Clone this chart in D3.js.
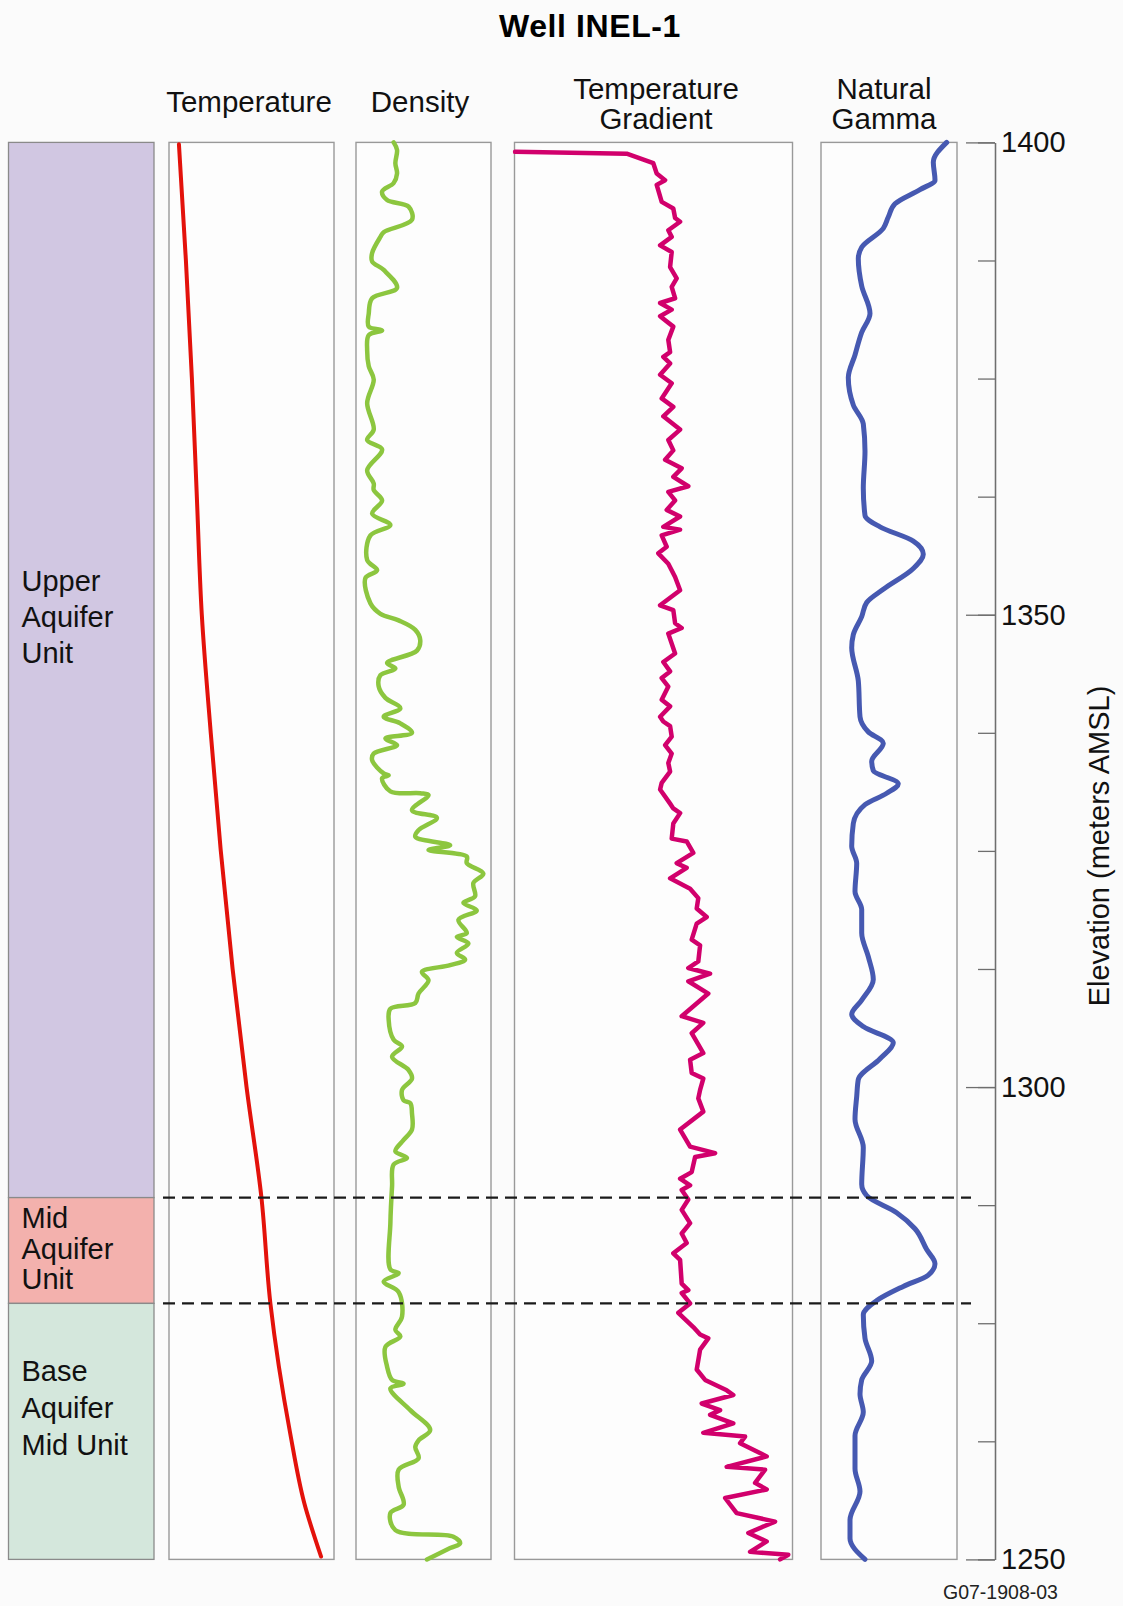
<!DOCTYPE html>
<html>
<head>
<meta charset="utf-8">
<script src="https://cdn.jsdelivr.net/npm/d3@7"></script>
<style>
  body { margin: 0; background: #fbfbfb; }
  svg { display: block; font-family: "Liberation Sans", Arial, Helvetica, sans-serif; }
</style>
</head>
<body>
<svg id="chart"></svg>
<script>
// elevation ticks (m AMSL)
var elevTicks = [1400, 1387.5, 1375, 1362.5, 1350, 1337.5, 1325, 1312.5, 1300, 1287.5, 1275, 1262.5, 1250]
var elevLabels = [1400, 1350, 1300, 1250]

// hydrostratigraphic units: name lines, top / bottom elevation
var unitNames = [["Upper", "Aquifer", "Unit"], ["Mid", "Aquifer", "Unit"], ["Base", "Aquifer", "Mid Unit"]]
var unitTop = [1400, 1288.3, 1277.1]
var unitBottom = [1288.3, 1277.1, 1250]

// temperature, deg C  [elevation, value]
var temperature = [[1399.8, 11.0], [1387.5, 11.7], [1375.1, 12.3], [1362.5, 12.8], [1350, 13.3], [1337.5, 14.2],
  [1325.1, 15.2], [1312.5, 16.4], [1300, 17.8], [1288.3, 19.3], [1277.1, 20.2], [1263.3, 22.2], [1256, 23.6], [1250.3, 25.3]]

// density, g/cc
var density = [[1400, 1.878], [1399.2, 1.912], [1397.8, 1.895], [1396.7, 1.912], [1395.7, 1.878], [1394.8, 1.762],
  [1393.9, 1.812], [1393.2, 2.028], [1391.8, 2.062], [1390.5, 1.778], [1390.0, 1.745], [1388.3, 1.662], [1387.4, 1.662],
  [1386.5, 1.778], [1384.6, 1.912], [1383.5, 1.662], [1381.9, 1.628], [1380.5, 1.628], [1380.1, 1.762], [1379.6, 1.628],
  [1378.0, 1.612], [1376.3, 1.628], [1374.9, 1.678], [1372.4, 1.612], [1369.6, 1.678], [1368.5, 1.612], [1367.5, 1.762],
  [1365.3, 1.612], [1363.9, 1.678], [1363.2, 1.678], [1362.1, 1.762], [1360.7, 1.662], [1359.5, 1.845], [1358.4, 1.645],
  [1355.8, 1.612], [1354.7, 1.712], [1353.9, 1.595], [1351.2, 1.645], [1350.1, 1.745], [1349.4, 1.928], [1348.4, 2.095],
  [1347.3, 2.145], [1346.2, 2.112], [1344.9, 1.812], [1344.3, 1.895], [1343.6, 1.745], [1342.4, 1.728], [1341.2, 1.795],
  [1340.1, 1.945], [1339.2, 1.778], [1338.5, 1.945], [1337.5, 2.062], [1336.9, 1.795], [1336.2, 1.912], [1335.3, 1.678],
  [1334.6, 1.662], [1333.2, 1.778], [1333.0, 1.828], [1332.7, 1.762], [1331.3, 1.845], [1331.1, 2.145], [1330.9, 2.228],
  [1329.3, 2.062], [1328.5, 2.312], [1327.2, 2.128], [1326.5, 2.095], [1325.6, 2.445], [1325.1, 2.228], [1324.4, 2.612],
  [1323.7, 2.612], [1322.6, 2.778], [1321.6, 2.678], [1320.2, 2.695], [1319.5, 2.578], [1318.7, 2.712], [1317.7, 2.528],
  [1316.3, 2.612], [1315.9, 2.512], [1315.2, 2.628], [1314.2, 2.512], [1313.5, 2.595], [1312.9, 2.445], [1312.2, 2.162],
  [1311.3, 2.228], [1309.9, 2.128], [1308.9, 2.095], [1308.3, 1.845], [1307.1, 1.828], [1305.0, 1.878], [1304.3, 1.962],
  [1303.2, 1.862], [1301.8, 2.028], [1300.9, 2.062], [1299.7, 1.962], [1298.6, 1.978], [1298.3, 2.045], [1297.2, 2.062],
  [1295.5, 2.062], [1294.4, 1.978], [1293.2, 1.895], [1292.5, 2.012], [1291.8, 1.878], [1289.5, 1.862], [1285.6, 1.845],
  [1280.7, 1.845], [1280.3, 1.928], [1279.4, 1.778], [1278.3, 1.928], [1275.7, 1.962], [1274.3, 1.895], [1273.6, 1.945],
  [1272.5, 1.795], [1270.4, 1.812], [1269.0, 1.862], [1268.6, 1.978], [1268.1, 1.845], [1265.8, 2.045], [1263.7, 2.245],
  [1262.6, 2.128], [1261.9, 2.095], [1260.7, 2.128], [1259.5, 1.928], [1257.7, 1.928], [1255.8, 1.978], [1254.9, 1.845],
  [1253.1, 1.895], [1252.4, 2.478], [1251.7, 2.545], [1251.2, 2.445], [1250.0, 2.212]]

// temperature gradient, deg C/km
var gradient = [[1399.0, 0.3], [1398.8, 56.1], [1397.8, 69.4], [1396.7, 71.1], [1396.0, 75.3], [1395.5, 71.1],
  [1393.7, 73.6], [1393.0, 79.4], [1392.0, 80.3], [1391.6, 82.8], [1390.7, 76.9], [1390.0, 78.6], [1389.1, 72.8],
  [1388.4, 78.6], [1386.8, 77.8], [1385.6, 81.1], [1384.7, 78.6], [1383.5, 80.3], [1383.0, 72.8], [1382.3, 78.6],
  [1381.6, 72.8], [1380.5, 79.4], [1379.1, 76.9], [1377.8, 77.8], [1377.3, 74.4], [1376.6, 77.8], [1375.4, 72.8],
  [1374.5, 78.6], [1372.9, 73.6], [1372.0, 79.4], [1371.0, 74.4], [1369.6, 82.8], [1368.5, 76.9], [1367.4, 79.4],
  [1366.4, 75.3], [1365.5, 83.6], [1364.6, 79.4], [1363.6, 86.9], [1363.0, 76.9], [1362.1, 80.3], [1361.1, 76.1],
  [1360.4, 82.8], [1359.3, 74.4], [1359.0, 82.8], [1358.4, 73.6], [1357.2, 76.1], [1356.5, 71.9], [1355.4, 76.9],
  [1354.0, 80.3], [1352.6, 82.8], [1351.0, 72.8], [1350.5, 79.4], [1349.1, 80.3], [1348.6, 83.6], [1348.0, 76.9],
  [1345.9, 80.3], [1345.0, 74.4], [1344.0, 77.8], [1343.3, 73.6], [1342.4, 76.9], [1341.0, 73.6], [1340.3, 77.8],
  [1339.2, 72.8], [1338.7, 74.4], [1338.2, 77.8], [1337.1, 78.6], [1336.2, 75.3], [1335.3, 78.6], [1334.3, 76.9],
  [1333.4, 77.8], [1332.2, 73.6], [1331.5, 72.8], [1330.0, 77.8], [1329.5, 79.4], [1329.0, 82.8], [1327.9, 79.4],
  [1326.3, 78.6], [1326.0, 86.1], [1324.8, 89.4], [1323.7, 81.1], [1323.2, 86.1], [1322.1, 77.8], [1321.0, 87.8],
  [1320.0, 91.9], [1318.9, 91.1], [1318.0, 96.1], [1317.3, 91.1], [1315.6, 88.6], [1315.0, 92.8], [1313.3, 91.9],
  [1312.6, 86.9], [1312.0, 97.8], [1311.2, 86.9], [1309.9, 96.9], [1307.5, 83.6], [1306.8, 94.4], [1305.7, 88.6],
  [1303.6, 94.4], [1302.9, 87.8], [1301.5, 88.6], [1300.9, 94.4], [1299.7, 92.8], [1298.8, 91.9], [1297.4, 94.4],
  [1295.5, 82.8], [1293.7, 87.8], [1293.0, 100.3], [1292.6, 90.3], [1291.0, 88.6], [1290.3, 82.8], [1289.6, 87.8],
  [1289.1, 83.6], [1288.1, 86.9], [1287.0, 83.6], [1285.6, 87.8], [1284.5, 83.6], [1283.5, 86.1], [1282.4, 79.4],
  [1281.7, 82.8], [1279.2, 83.6], [1278.5, 86.9], [1278.2, 83.6], [1277.1, 87.8], [1276.1, 81.9], [1274.6, 89.4],
  [1273.8, 92.8], [1273.4, 96.9], [1272.2, 92.8], [1270.1, 91.1], [1269.0, 95.3], [1267.9, 106.1], [1267.4, 109.4],
  [1266.5, 93.6], [1265.8, 102.8], [1265.3, 97.8], [1264.4, 109.4], [1263.4, 94.4], [1263.0, 115.3], [1262.3, 112.8],
  [1260.9, 126.1], [1259.8, 106.1], [1259.5, 125.3], [1258.1, 120.3], [1257.4, 126.1], [1256.5, 105.3], [1254.9, 111.1],
  [1254.0, 130.3], [1252.8, 116.9], [1251.9, 126.1], [1250.8, 117.8], [1250.5, 136.9], [1250.0, 132.8]]

// natural gamma, API
var gamma = [[1400, 125.7], [1397.9, 112.3], [1396.0, 114], [1395.0, 99], [1393.5, 74], [1392.1, 67.3], [1390.9, 62.3],
  [1388.9, 40.7], [1387.7, 37.3], [1384.8, 40.7], [1381.9, 49], [1379.9, 40.7], [1377.5, 34], [1375.1, 27.3],
  [1372.2, 32.3], [1370.2, 42.3], [1367.3, 44], [1363.4, 42.3], [1360.5, 44], [1359.3, 59], [1357.8, 92.3],
  [1356.4, 102.3], [1354.9, 92.3], [1352.7, 62.3], [1351.3, 45.7], [1349.8, 40.7], [1347.9, 32.3], [1346.5, 30.7],
  [1343.0, 37.3], [1339.2, 39], [1337.6, 47.3], [1336.4, 62.3], [1334.5, 50.7], [1333.5, 52.3], [1332.1, 77.3],
  [1331.1, 65.7], [1329.9, 44], [1327.9, 32.3], [1325.5, 30.7], [1323.7, 35.7], [1320.7, 34], [1318.8, 40.7],
  [1316.3, 40.7], [1313.8, 47.3], [1311.4, 52.3], [1309.2, 40.7], [1307.7, 30.7], [1306.4, 42.3], [1304.7, 72.3],
  [1303.0, 59], [1300.8, 37.3], [1299.0, 35.7], [1296.6, 34], [1293.6, 42.3], [1289.7, 40.7], [1288.5, 45.7],
  [1286.7, 75.7], [1285.0, 94], [1282.8, 105.7], [1281.3, 114], [1280.1, 107.3], [1278.9, 82.3], [1277.4, 55.7],
  [1275.9, 42.3], [1273.4, 44], [1271.0, 50.7], [1269.0, 40.7], [1267.5, 39], [1265.6, 42.3], [1263.1, 34],
  [1259.6, 34], [1257.2, 39], [1254.2, 29], [1252.2, 29], [1250.0, 44]]

var width = 1123
var height = 1606
var plotTop = 142.4, plotBottom = 1559.4

var svg = d3.select('#chart')
  .attr('width', width)
  .attr('height', height)

svg.append('rect').attr('width', width).attr('height', height).attr('fill', '#fbfbfb')

var yScale = d3.scaleLinear().domain([1400, 1250]).range([plotTop, plotBottom])

// track layout
var tracks = [
  {name: ['Temperature'], data: temperature, x0: 169, x1: 334, domain: [10, 26.6], color: '#e3120b', width: 4, labelX: 249, curve: d3.curveMonotoneY},
  {name: ['Density'], data: density, x0: 356, x1: 491, domain: [1.5, 2.855], color: '#8cc63f', width: 4.5, labelX: 420, curve: d3.curveCatmullRom.alpha(0.5)},
  {name: ['Temperature', 'Gradient'], data: gradient, x0: 514.5, x1: 792.5, domain: [0, 139], color: '#d1006c', width: 4.5, labelX: 656, curve: d3.curveLinear},
  {name: ['Natural', 'Gamma'], data: gamma, x0: 821, x1: 957, domain: [0, 136], color: '#4659b1', width: 5, labelX: 884, curve: d3.curveMonotoneY}
]
var unitColors = ['#d1c7e2', '#f3b1ad', '#d4e7dc']

// title
svg.append('text')
  .attr('x', 590).attr('y', 37)
  .attr('text-anchor', 'middle')
  .attr('font-size', 32).attr('font-weight', 'bold')
  .attr('letter-spacing', 0.6)
  .text('Well INEL-1')

// unit column
var units = svg.append('g')
units.selectAll('rect').data(unitNames).enter().append('rect')
  .attr('x', 8.5).attr('width', 145.5)
  .attr('y', (d, i) => yScale(unitTop[i]))
  .attr('height', (d, i) => yScale(unitBottom[i]) - yScale(unitTop[i]))
  .attr('fill', (d, i) => unitColors[i])
  .attr('stroke', '#8a8a8a').attr('stroke-width', 1.3)

var unitTextY = [591, 1228, 1381]
var unitLineGap = [36, 30.5, 37]
unitNames.forEach((lines, i) => {
  lines.forEach((s, j) => {
    units.append('text')
      .attr('x', 21.5).attr('y', unitTextY[i] + j * unitLineGap[i])
      .attr('font-size', 29).attr('fill', '#111')
      .text(s)
  })
})

// tracks
tracks.forEach(t => {
  var g = svg.append('g')
  g.append('rect')
    .attr('x', t.x0).attr('y', plotTop)
    .attr('width', t.x1 - t.x0).attr('height', plotBottom - plotTop)
    .attr('fill', '#fdfdfd').attr('stroke', '#999').attr('stroke-width', 1.4)

  var xScale = d3.scaleLinear().domain(t.domain).range([t.x0, t.x1])
  var line = d3.line()
    .x(d => xScale(d[1]))
    .y(d => yScale(d[0]))
    .curve(t.curve)
  g.append('path').attr('d', line(t.data))
    .attr('fill', 'none')
    .attr('stroke', t.color)
    .attr('stroke-width', t.width)
    .attr('stroke-linejoin', 'round')
    .attr('stroke-linecap', 'round')

  var baseY = t.name.length == 1 ? 112 : 99
  t.name.forEach((s, j) => {
    svg.append('text')
      .attr('x', t.labelX).attr('y', baseY + j * 30)
      .attr('text-anchor', 'middle')
      .attr('font-size', 29.5).attr('fill', '#111')
      .text(s)
  })
})

// unit boundaries, dashed
svg.append('g').selectAll('line').data(unitTop.slice(1)).enter().append('line')
  .attr('x1', 163).attr('x2', 971)
  .attr('y1', d => yScale(d)).attr('y2', d => yScale(d))
  .attr('stroke', '#1a1a1a').attr('stroke-width', 2.3)
  .attr('stroke-dasharray', '12,7')

// elevation axis
var axisX = 995
svg.append('g')
  .attr('class', 'ticks')
  .attr('transform', `translate(${axisX},0)`)
  .call(d3.axisLeft(yScale).tickValues(elevTicks).tickSize(17).tickSizeOuter(0).tickFormat(''))
svg.append('g')
  .attr('class', 'ticks')
  .attr('transform', `translate(${axisX},0)`)
  .call(d3.axisLeft(yScale).tickValues(elevLabels).tickSize(29).tickSizeOuter(0).tickFormat(''))
svg.selectAll('.ticks .domain, .ticks .tick line').attr('stroke', '#6e6e6e').attr('stroke-width', 1.3)

svg.append('g')
  .attr('transform', `translate(${axisX},0)`)
  .call(d3.axisRight(yScale).tickValues(elevLabels).tickSize(0).tickPadding(6).tickFormat(d3.format('d')))
  .call(g => g.select('.domain').remove())
  .selectAll('text')
  .attr('font-size', 29).attr('fill', '#111')
  .attr('font-family', '"Liberation Sans", Arial, Helvetica, sans-serif')

svg.append('text')
  .attr('transform', 'translate(1109,846) rotate(-90)')
  .attr('text-anchor', 'middle')
  .attr('font-size', 29).attr('fill', '#111')
  .text('Elevation (meters AMSL)')

svg.append('text')
  .attr('x', 943).attr('y', 1599)
  .attr('font-size', 19.5).attr('fill', '#222')
  .text('G07-1908-03')
</script>
</body>
</html>
